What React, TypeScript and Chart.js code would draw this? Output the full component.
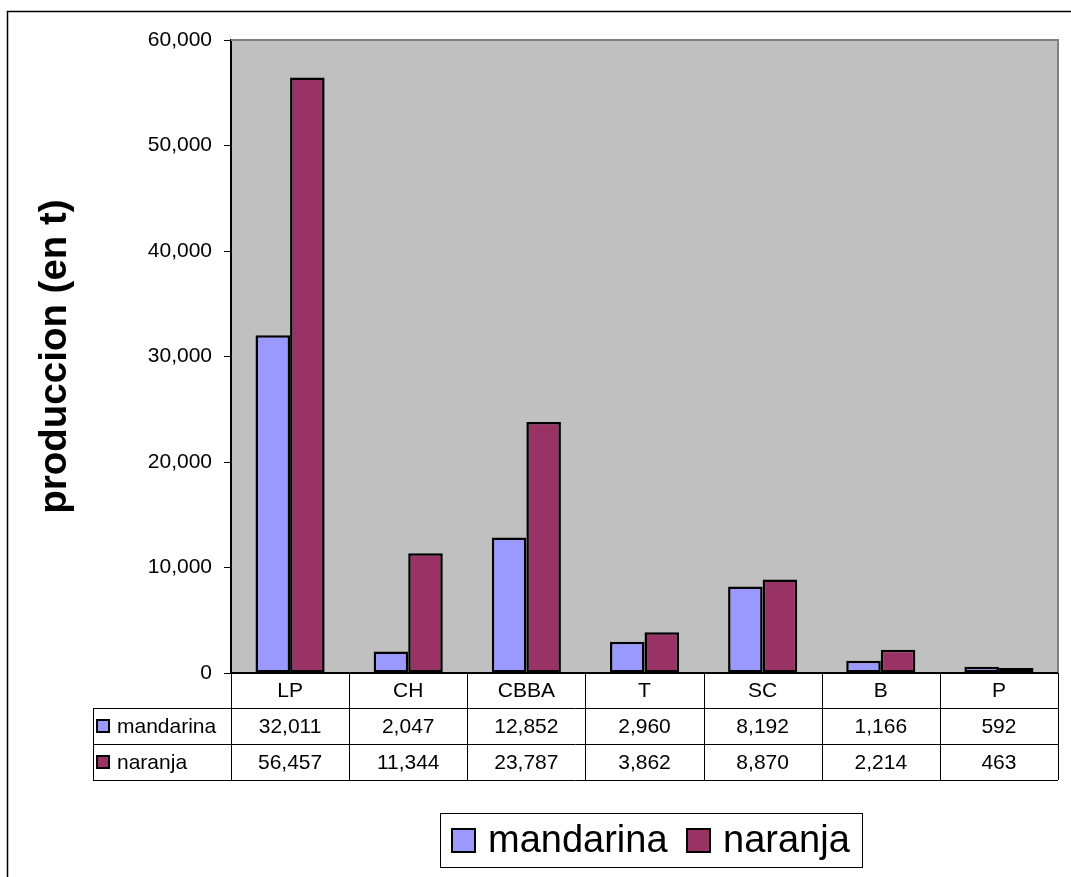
import React, { useEffect, useRef } from "react";
import Chart from "chart.js/auto";

const categories = ["LP", "CH", "CBBA", "T", "SC", "B", "P"];
const mandarina = [32011, 2047, 12852, 2960, 8192, 1166, 592];
const naranja = [56457, 11344, 23787, 3862, 8870, 2214, 463];
const seriesNames = ["mandarina", "naranja"];
const seriesColors = ["#9999FF", "#993366"];
const yTicks = [0, 10000, 20000, 30000, 40000, 50000, 60000];

const FONT = "'Liberation Sans', Arial, sans-serif";
const fmt = (v: number) => v.toLocaleString("en-US");

const tablePlugin = {
  id: "excelTable",
  beforeDraw(chart: any) {
    const { ctx, chartArea: a, width, height } = chart;
    ctx.save();
    ctx.fillStyle = "#FFFFFF";
    ctx.fillRect(0, 0, width, height);
    ctx.strokeStyle = "#000000";
    ctx.lineWidth = 1.5;
    ctx.strokeRect(7.5, 11.5, width + 20, height + 20);
    ctx.fillStyle = "#C0C0C0";
    ctx.fillRect(a.left, a.top, a.right - a.left, a.bottom - a.top);
    ctx.restore();
  },
  afterDraw(chart: any) {
    const { ctx, chartArea: a } = chart;
    ctx.save();
    // plot border top/right
    ctx.strokeStyle = "#808080";
    ctx.lineWidth = 2;
    ctx.beginPath();
    ctx.moveTo(a.left, a.top);
    ctx.lineTo(a.right, a.top);
    ctx.lineTo(a.right, a.bottom);
    ctx.stroke();
    // base axis line
    ctx.strokeStyle = "#000000";
    ctx.lineWidth = 2;
    ctx.beginPath();
    ctx.moveTo(a.left, a.bottom);
    ctx.lineTo(a.right, a.bottom);
    ctx.stroke();

    // data table
    const n = categories.length;
    const cw = (a.right - a.left) / n;
    const top = a.bottom;
    const r0 = top + 35;
    const r1 = r0 + 36;
    const r2 = r1 + 36;
    const tableLeft = 93;
    ctx.lineWidth = 1;
    ctx.strokeStyle = "#000000";
    ctx.beginPath();
    for (let i = 0; i <= n; i++) {
      const x = Math.round(a.left + i * cw) + 0.5;
      ctx.moveTo(x, top);
      ctx.lineTo(x, r2);
    }
    ctx.moveTo(tableLeft + 0.5, r0);
    ctx.lineTo(tableLeft + 0.5, r2);
    [r0, r1, r2].forEach((y) => {
      ctx.moveTo(tableLeft, Math.round(y) + 0.5);
      ctx.lineTo(a.right, Math.round(y) + 0.5);
    });
    ctx.stroke();

    ctx.fillStyle = "#000000";
    ctx.font = `21px ${FONT}`;
    ctx.textAlign = "center";
    ctx.textBaseline = "middle";
    const xs = chart.scales.x;
    categories.forEach((c, i) => {
      const cx = xs.getPixelForValue(i);
      ctx.fillText(c, cx, (top + r0) / 2 + 1);
      ctx.fillText(fmt(mandarina[i]), cx, (r0 + r1) / 2 + 1);
      ctx.fillText(fmt(naranja[i]), cx, (r1 + r2) / 2 + 1);
    });
    // row keys
    ctx.textAlign = "left";
    [r0, r1].forEach((ry, k) => {
      const cy = ry + 18;
      ctx.fillStyle = seriesColors[k];
      ctx.fillRect(97, cy - 6, 12, 12);
      ctx.strokeStyle = "#000";
      ctx.lineWidth = 2;
      ctx.strokeRect(97, cy - 6, 12, 12);
      ctx.fillStyle = "#000";
      ctx.fillText(seriesNames[k], 117, cy + 1);
    });

    // legend
    ctx.lineWidth = 1;
    ctx.strokeStyle = "#000";
    ctx.strokeRect(440.5, 813.5, 422, 54);
    ctx.font = `38px ${FONT}`;
    const lx = [452, 687];
    seriesNames.forEach((s, k) => {
      ctx.fillStyle = seriesColors[k];
      ctx.fillRect(lx[k], 829, 23, 23);
      ctx.strokeStyle = "#000";
      ctx.lineWidth = 2;
      ctx.strokeRect(lx[k], 829, 23, 23);
      ctx.fillStyle = "#000";
      ctx.textBaseline = "middle";
      ctx.fillText(s, lx[k] + 36, 842);
    });
    ctx.restore();
  },
};

export default function App() {
  const ref = useRef<HTMLCanvasElement | null>(null);
  useEffect(() => {
    if (!ref.current) return;
    const chart = new Chart(ref.current, {
      type: "bar",
      data: {
        labels: categories,
        datasets: [
          {
            label: seriesNames[0],
            data: mandarina,
            backgroundColor: seriesColors[0],
            borderColor: "#000000",
            borderWidth: 2.5,
            borderSkipped: false,
            categoryPercentage: 0.585,
            barPercentage: 1,
          },
          {
            label: seriesNames[1],
            data: naranja,
            backgroundColor: seriesColors[1],
            borderColor: "#000000",
            borderWidth: 2.5,
            borderSkipped: false,
            categoryPercentage: 0.585,
            barPercentage: 1,
          },
        ],
      },
      options: {
        responsive: false,
        animation: false,
        layout: { padding: { left: 0, top: 40, right: 13, bottom: 204 } },
        plugins: { legend: { display: false }, tooltip: { enabled: false } },
        scales: {
          x: { display: false },
          y: {
            min: 0,
            max: 60000,
            afterBuildTicks: (s: any) => {
              s.ticks = yTicks.map((v) => ({ value: v }));
            },
            afterFit: (s: any) => {
              s.width = 231;
            },
            ticks: {
              color: "#000",
              padding: 12,
              font: { family: FONT, size: 21 },
              callback: (v: any) => fmt(Number(v)),
            },
            grid: {
              drawOnChartArea: false,
              tickLength: 7,
              color: "#000",
              tickColor: "#000",
            },
            border: { color: "#000", width: 2 },
            title: {
              display: true,
              text: "produccion (en t)",
              color: "#000",
              padding: { top: 32, bottom: 0 },
              font: { family: FONT, size: 38.5, weight: "bold" },
            },
          },
        },
      },
      plugins: [tablePlugin],
    });
    return () => chart.destroy();
  }, []);
  return (
    <div style={{ position: "absolute", left: 0, top: 0, width: 1071, height: 877 }}>
      <canvas ref={ref} width={1071} height={877} style={{ display: "block", width: 1071, height: 877 }} />
    </div>
  );
}
